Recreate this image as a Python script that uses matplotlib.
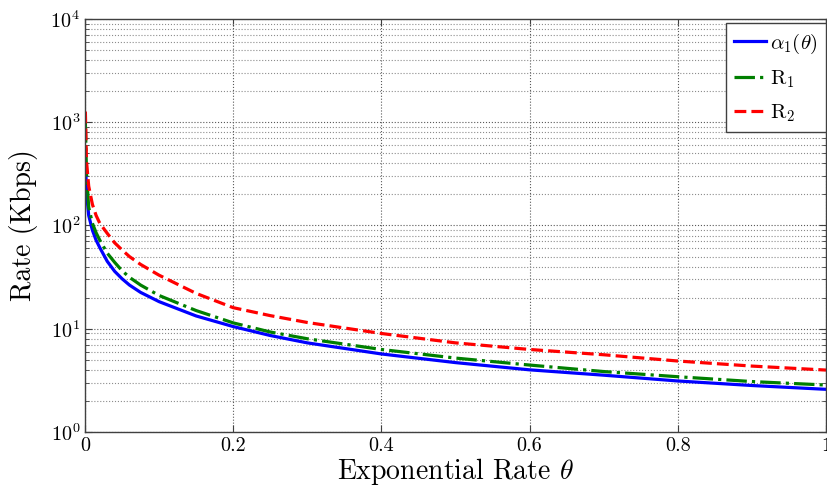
import numpy as np
import matplotlib
matplotlib.use("Agg")
import matplotlib.pyplot as plt
from matplotlib.ticker import LogLocator, NullFormatter

plt.rcParams['font.family'] = 'serif'
plt.rcParams['font.serif'] = ['cmr10', 'DejaVu Serif']
plt.rcParams['mathtext.fontset'] = 'cm'
plt.rcParams['axes.formatter.use_mathtext'] = True
plt.rcParams['axes.unicode_minus'] = False

# values (theta -> rate in Kbps)
theta = [0.0005, 0.002, 0.005, 0.01, 0.015, 0.02, 0.03, 0.04, 0.05, 0.06, 0.075, 0.1,
         0.15, 0.2, 0.25, 0.3, 0.4, 0.5, 0.6, 0.7, 0.8, 0.9, 1.0]
alpha1 = [480, 210, 125, 90, 72, 61, 45, 36, 30.5, 26.5, 22.5, 18.3,
          13.3, 10.5, 8.6, 7.3, 5.7, 4.7, 4.0, 3.55, 3.12, 2.82, 2.59]
r1 = [1000, 320, 150, 105, 85, 72, 54, 44, 36.5, 31.5, 26.5, 21,
      15, 11.4, 9.3, 8.0, 6.3, 5.2, 4.45, 3.85, 3.43, 3.08, 2.85]
r2 = [1270, 420, 240, 160, 125, 105, 84, 68, 58, 50, 42, 33,
      22, 16.0, 13.4, 11.5, 9.0, 7.3, 6.3, 5.6, 4.87, 4.35, 3.98]

xticks = [0, 0.2, 0.4, 0.6, 0.8, 1]
xticklabels = ['0', '0.2', '0.4', '0.6', '0.8', '1']

fig = plt.figure(figsize=(8.28, 4.9), dpi=100)
ax = fig.add_axes([85 / 828, 58 / 490, 741 / 828, 413 / 490])

ax.semilogy(theta, alpha1, color='#0000ff', lw=2.3, ls='-', label=r'$\alpha_1(\theta)$')
ax.semilogy(theta, r1, color='#007f00', lw=2.3, ls='-.', label=r'$\mathrm{R}_1$')
ax.semilogy(theta, r2, color='#ff0000', lw=2.3, ls='--', label=r'$\mathrm{R}_2$')

ax.set_xlim(0, 1)
ax.set_ylim(1, 1e4)
ax.set_xticks(xticks)
ax.set_xticklabels(xticklabels)
ax.yaxis.set_major_locator(LogLocator(base=10, numticks=10))
ax.yaxis.set_minor_locator(LogLocator(base=10, subs=np.arange(2, 10), numticks=20))
ax.yaxis.set_minor_formatter(NullFormatter())

ax.grid(True, which='major', ls=':', color='0.35', lw=0.8)
ax.grid(True, which='minor', axis='y', ls=':', color='0.55', lw=0.8)
ax.tick_params(which='both', direction='in', top=True, right=True,
               labelsize=14.5, color='0.25')
ax.tick_params(which='major', length=5)
ax.tick_params(which='minor', length=3)
for s in ax.spines.values():
    s.set_color('0.25')
    s.set_linewidth(1.0)

ax.set_xlabel(r'Exponential Rate $\theta$', fontsize=20, labelpad=1)
ax.set_ylabel('Rate (Kbps)', fontsize=20, labelpad=9)

leg = ax.legend(loc='upper right', bbox_to_anchor=(1.0, 0.99), borderaxespad=0,
                fontsize=15, labelspacing=0.6, handlelength=1.5, handletextpad=0.2,
                borderpad=0.4, fancybox=False, framealpha=1, edgecolor='0.25')
leg.get_frame().set_linewidth(1.0)

fig.savefig('out.png', dpi=100)
